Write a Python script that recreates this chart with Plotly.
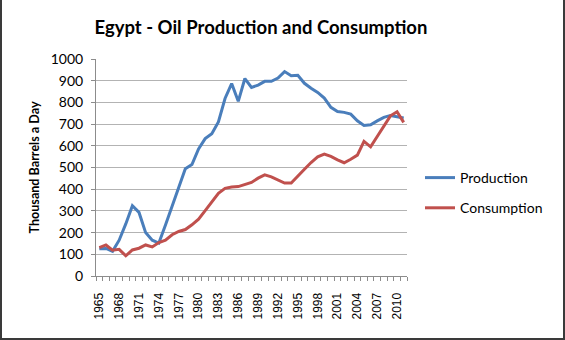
import plotly.graph_objects as go

years = list(range(1965, 2012))
production = [126, 127, 114, 165, 240, 324, 293, 200, 165, 152, 235, 320, 405, 494,
              514, 586, 633, 656, 710, 818, 887, 805, 910, 869, 880,
              897, 897, 912, 942, 923, 925, 888, 865, 846, 820, 777, 758, 754, 746,
              715, 694, 697, 715, 731, 740, 734, 728]
consumption = [131, 143, 119, 123, 93, 120, 128, 143, 134, 154, 165, 190, 205, 214,
               236, 262, 301, 343, 381, 404, 410, 412, 423, 431, 451,
               466, 457, 442, 428, 428, 462, 492, 523, 549, 562, 551, 535, 522, 538,
               557, 620, 595, 643, 692, 738, 757, 708]
tick_years = list(range(1965, 2011, 3))

FONT = "Lato"
L, R, T, B = 96, 158, 59, 64
W, H = 565, 340
pw, ph = W - L - R, H - T - B

fig = go.Figure()
fig.add_trace(go.Scatter(x=years, y=production, mode="lines", name="Production",
                         line=dict(color="#4a7ebb", width=3), legendgroup="p"))
fig.add_trace(go.Scatter(x=years, y=consumption, mode="lines", name="Consumption",
                         line=dict(color="#c0504d", width=3), legendgroup="c"))

fig.update_layout(
    width=W, height=H,
    margin=dict(l=L, r=R, t=T, b=B, autoexpand=False),
    paper_bgcolor="white", plot_bgcolor="white",
    font=dict(family=FONT, color="#000000"),
    title=dict(text="<b>Egypt - Oil Production and Consumption</b>",
               x=261 / W, xanchor="center", xref="container", y=1 - 28 / H, yanchor="middle",
               font=dict(size=18.5, family=FONT, color="#000")),
    legend=dict(x=(420 - L) / pw, y=(276 - 162) / ph, xanchor="left", yanchor="top",
                font=dict(size=14, family=FONT), tracegroupgap=9,
                traceorder="grouped", bgcolor="rgba(0,0,0,0)"),
    showlegend=True,
)
fig.update_xaxes(
    range=[1964.5, 2011.5], tickmode="array", tickvals=tick_years,
    ticktext=[str(y) for y in tick_years], tickangle=-90,
    ticks="", showgrid=False, showline=True, linecolor="#8c8c8c", linewidth=1,
    tickfont=dict(size=12, family="Liberation Sans", color="#000"), ticklabelstandoff=11,
    minor=dict(tick0=1964.5, dtick=1, ticks="outside", ticklen=4, tickcolor="#8c8c8c", showgrid=False),
    zeroline=False, automargin=False,
)
fig.update_yaxes(
    range=[0, 1000], dtick=100, showgrid=True, gridcolor="#b3b3b3", gridwidth=1,
    showline=True, linecolor="#8c8c8c", linewidth=1, ticks="outside", ticklen=4,
    tickcolor="#8c8c8c", zeroline=False, tickfont=dict(size=14, family=FONT, color="#000"),
    ticklabelstandoff=5,
    title=dict(text="<b>Thousand Barrels a Day</b>", font=dict(size=12.6, family=FONT), standoff=8),
    automargin=False,
)
fig.add_shape(type="rect", xref="paper", yref="paper",
              x0=-(L - 1) / pw, x1=(W - L - 1) / pw, y0=-(B - 1) / ph, y1=(H - T - 1) / ph,
              line=dict(color="#3a3a3a", width=2), fillcolor="rgba(0,0,0,0)", layer="above")

fig.write_html("out.html")
